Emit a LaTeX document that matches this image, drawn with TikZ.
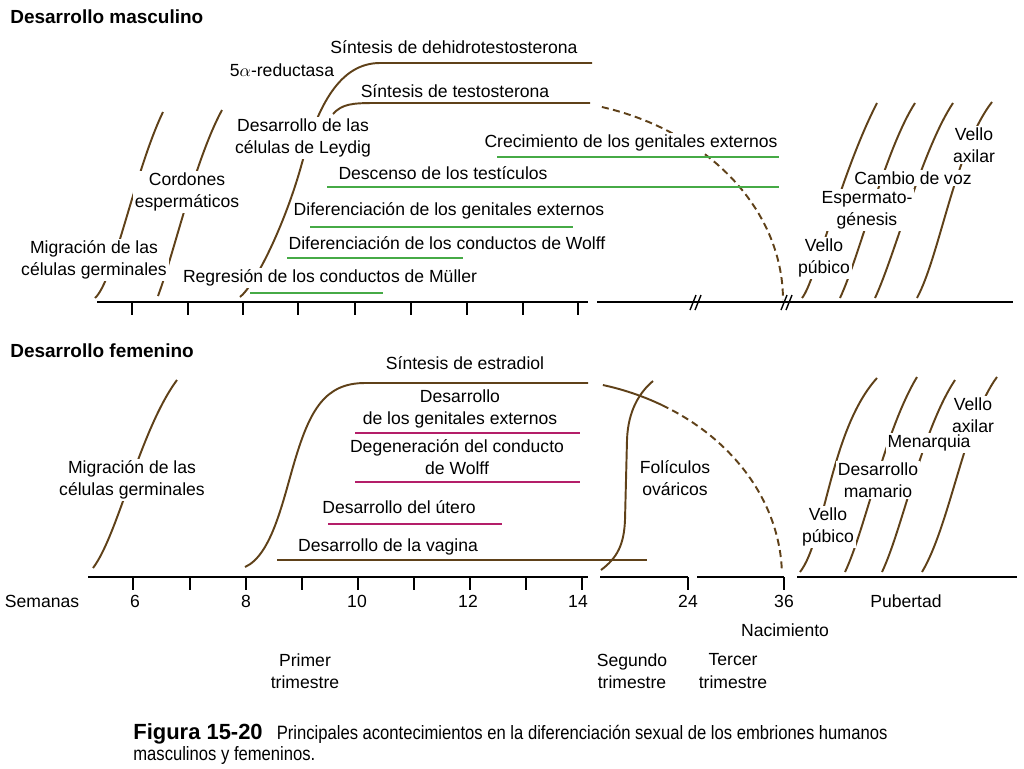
\documentclass[tikz,border=0pt]{standalone}
\usepackage{fontspec}
\setmainfont{Liberation Sans}
\newfontfamily\capfont[FakeStretch=0.86]{Liberation Sans}
\usepackage{tikz}
\definecolor{curva}{RGB}{95,65,25}
\definecolor{verde}{RGB}{70,170,70}
\definecolor{rosa}{RGB}{180,30,105}

\begin{document}
\begin{tikzpicture}[x=0.02cm, y=-0.02cm]
        \tikzset{lbl/.style = {fill=white, inner sep=1pt, align=center, font=\fontsize{10}{12.6}\selectfont}}
        \tikzset{eti/.style = {inner sep=1pt, align=center, font=\fontsize{10}{12.6}\selectfont}}
        \tikzset{titulo/.style = {anchor=base west, inner sep=0pt, font=\fontsize{10.8}{13}\selectfont\bfseries}}
        \tikzset{hito/.style = {draw=curva, line width=1.1pt}}
        \tikzset{trazos/.style = {hito, dash pattern=on 4pt off 2.5pt}}
        \tikzset{verdes/.style = {draw=verde, line width=1.1pt}}
        \tikzset{rosas/.style = {draw=rosa, line width=1.1pt}}
        \tikzset{eje/.style = {draw=black, line width=1.5pt}}
        \tikzset{marca/.style = {draw=black, line width=0.8pt}}

        \useasboundingbox (0,0) rectangle (1024,768);

        % masculino: curvas
        \draw[hito] (95,298) .. controls (114,281) and (135,170) .. (163,112);
        \draw[hito] (158,296) .. controls (175,250) and (195,160) .. (222,110);
        \draw[hito] (240,297) .. controls (255,285) and (285,225) .. (302,163)
                .. controls (318,105) and (340,63) .. (380,63) -- (592,63);
        \draw[hito] (333,114) .. controls (342,104) and (352,103) .. (375,103) -- (590,103);
        \draw[trazos] plot[smooth, domain=74:0, samples=25] ({533+250*cos(\x)}, {300-200.8*sin(\x)});

        \draw[hito] (802,298) .. controls (815,283) and (840,175) .. (877,103);
        \draw[hito] (840,298) .. controls (860,255) and (885,150) .. (915,103);
        \draw[hito] (875,298) .. controls (895,255) and (922,150) .. (953,103);
        \draw[hito] (917,298) .. controls (940,255) and (955,150) .. (992,102);

        % femenino: curvas
        \draw[hito] (93,568) .. controls (118,535) and (140,430) .. (177,380);
        \draw[hito] (245,567) .. controls (272,555) and (283,500) .. (295,460)
                .. controls (310,410) and (325,383) .. (365,383) -- (588,383);
        \draw[hito] plot[smooth, domain=75.3:60, samples=8] ({542+240*cos(\x)}, {577-198.5*sin(\x)});
        \draw[trazos] plot[smooth, domain=60:2, samples=25] ({542+240*cos(\x)}, {577-198.5*sin(\x)});
        \draw[hito] (601,570) .. controls (617,558) and (624,545) .. (625,520) -- (627,440)
                .. controls (628,410) and (640,392) .. (653,381);

        \draw[hito] (800,572) .. controls (825,540) and (830,430) .. (877,378);
        \draw[hito] (845,572) .. controls (865,530) and (885,430) .. (917,377);
        \draw[hito] (882,572) .. controls (902,530) and (922,430) .. (955,380);
        \draw[hito] (922,572) .. controls (950,525) and (965,420) .. (997,377);

        % titulos
        \node[titulo] (tmasc) at (10,23) {Desarrollo masculino};
        \node[titulo] (tfem) at (10,357) {Desarrollo femenino};

        % masculino: textos
        \node[lbl] (dht) at (454,47) {Síntesis de dehidrotestosterona};
        \node[lbl] (reduc) at (282,70) {5$\alpha$-reductasa};
        \node[lbl] (testo) at (455,91) {Síntesis de testosterona};
        \node[lbl] (leydig) at (303,138) {Desarrollo de las\\células de Leydig};
        \node[lbl] (crecm) at (631,143) {Crecimiento de los genitales externos};
        \node[lbl] (desc) at (443,173) {Descenso de los testículos};
        \node[lbl] (difge) at (449,211) {Diferenciación de los genitales externos};
        \node[lbl] (difwo) at (447,243) {Diferenciación de los conductos de Wolff};
        \node[lbl] (regr) at (330,278) {Regresión de los conductos de Müller};
        \node[lbl] (cord) at (187,192) {Cordones\\espermáticos};
        \node[lbl] (migm) at (94,260) {Migración de las\\células germinales};
        \node[lbl] (vpm) at (824,258) {Vello\\púbico};
        \node[lbl] (esp) at (867,210) {Espermato-\\génesis};
        \node[lbl] (voz) at (913,178) {Cambio de voz};
        \node[lbl] (vam) at (974,145) {Vello\\axilar};

        % femenino: textos
        \node[lbl] (estr) at (465,363) {Síntesis de estradiol};
        \node[lbl] (dgef) at (460,409) {Desarrollo\\de los genitales externos};
        \node[lbl] (degw) at (457,457) {Degeneración del conducto\\de Wolff};
        \node[lbl] (ute) at (399,507) {Desarrollo del útero};
        \node[lbl] (vag) at (388,547) {Desarrollo de la vagina};
        \node[lbl] (fol) at (675,478) {Folículos\\ováricos};
        \node[lbl] (migf) at (132,480) {Migración de las\\células germinales};
        \node[lbl] (vpf) at (828,527) {Vello\\púbico};
        \node[lbl] (mam) at (878,480) {Desarrollo\\mamario};
        \node[lbl] (men) at (929,443) {Menarquia};
        \node[lbl] (vaf) at (973,415) {Vello\\axilar};

        % lineas de duracion
        \draw[verdes] (497,157) -- (779,157);
        \draw[verdes] (327,187) -- (779,187);
        \draw[verdes] (310,227) -- (573,227);
        \draw[verdes] (287,258) -- (463,258);
        \draw[verdes] (250,293) -- (383,293);

        \draw[rosas] (355,433) -- (580,433);
        \draw[rosas] (355,482) -- (580,482);
        \draw[rosas] (328,524) -- (502,524);
        \draw[hito] (277,560) -- (647,560);

        % ejes
        \draw[eje] (97,302) -- (588,302);
        \draw[eje] (597,302) -- (1013,302);
        \draw[marca] (132,302) -- (132,315) (188,302) -- (188,315) (243,302) -- (243,315)
                (298,302) -- (298,315) (355,302) -- (355,315) (411,302) -- (411,315)
                (467,302) -- (467,315) (523,302) -- (523,315) (578,302) -- (578,315);
        \draw[marca] (690,310) -- (696,295) (695,310) -- (701,295);
        \draw[marca] (781,310) -- (787,295) (786,310) -- (792,295);

        \draw[eje] (88,577) -- (588,577);
        \draw[eje] (600,577) -- (688,577);
        \draw[eje] (697,577) -- (784,577);
        \draw[eje] (797,577) -- (1017,577);
        \draw[marca] (133,577) -- (133,590) (190,577) -- (190,590) (246,577) -- (246,590)
                (302,577) -- (302,590) (358,577) -- (358,590) (414,577) -- (414,590)
                (470,577) -- (470,590) (526,577) -- (526,590) (582,577) -- (582,590)
                (688,577) -- (688,590) (784,577) -- (784,590);

        % etiquetas del eje
        \node[eti] (sem) at (42,601) {Semanas};
        \node[eti] (s6) at (135,601) {6};
        \node[eti] (s8) at (246,601) {8};
        \node[eti] (s10) at (357,601) {10};
        \node[eti] (s12) at (468,601) {12};
        \node[eti] (s14) at (578,601) {14};
        \node[eti] (s24) at (688,601) {24};
        \node[eti] (s36) at (784,601) {36};
        \node[eti] (pub) at (906,601) {Pubertad};
        \node[eti] (nac) at (785,630) {Nacimiento};
        \node[eti] (tri1) at (305,671) {Primer\\trimestre};
        \node[eti] (tri2) at (632,671) {Segundo\\trimestre};
        \node[eti] (tri3) at (733,671) {Tercer\\trimestre};

        % pie de figura
        \node[anchor=north west, align=left, inner sep=0pt, font=\capfont\fontsize{11}{12}\selectfont] (pie) at (133,723)
                {{\normalfont\bfseries\fontsize{12.5}{12}\selectfont Figura 15-20}\hspace{8pt}Principales acontecimientos en la diferenciación sexual de los embriones humanos\\masculinos y femeninos.};
\end{tikzpicture}
\end{document}
